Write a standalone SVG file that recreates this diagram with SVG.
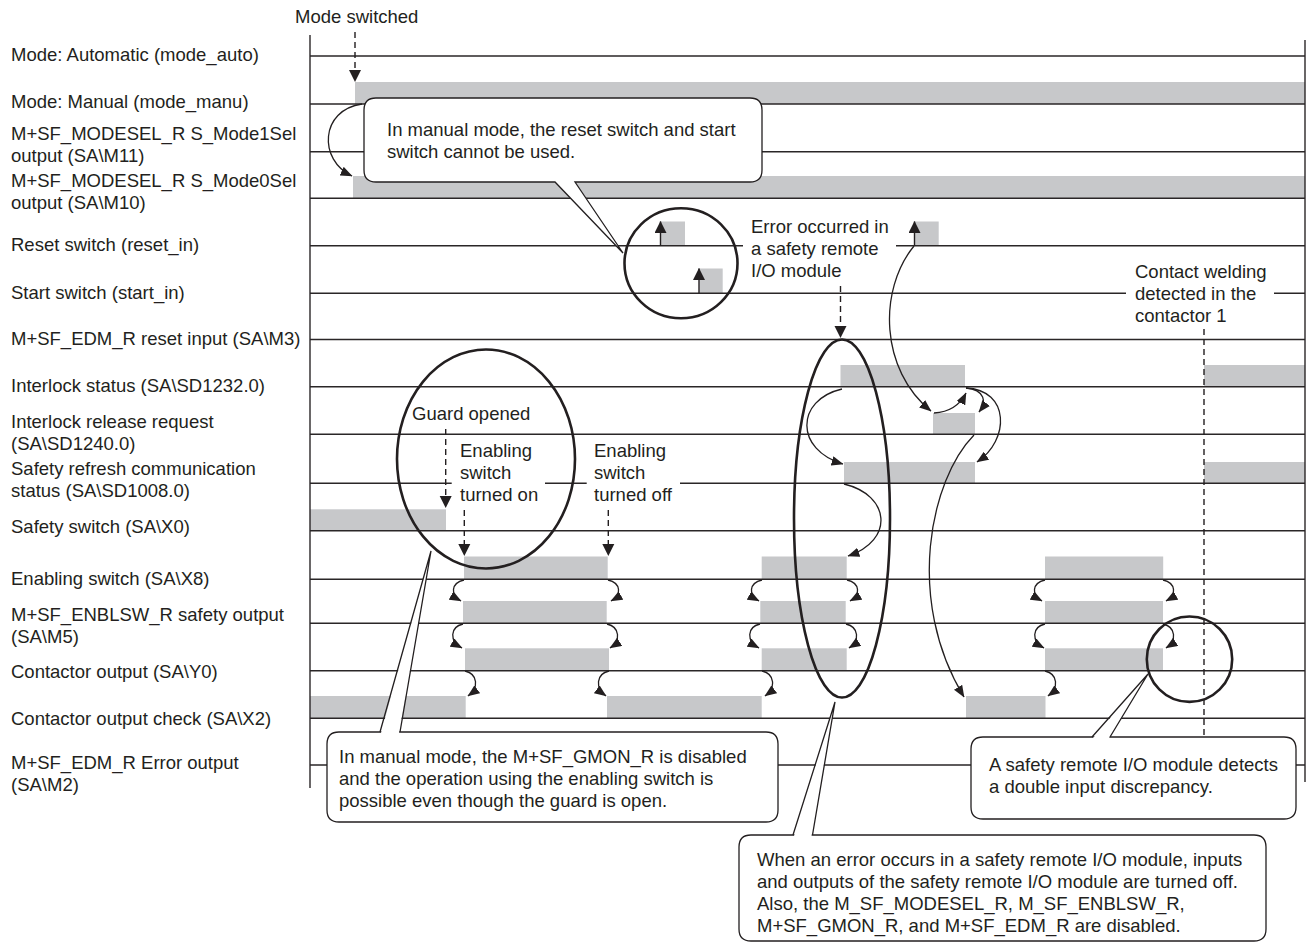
<svg xmlns="http://www.w3.org/2000/svg" width="1307" height="945" viewBox="0 0 1307 945">
<style>
text{font-family:"Liberation Sans",Arial,sans-serif;font-size:18.5px;fill:#231f20}
.ln{stroke:#2a2627;stroke-width:1.4;fill:none}
.sig{fill:#c7c8ca}
.ring{stroke:#231f20;stroke-width:2.6;fill:none}
.cv{stroke:#231f20;stroke-width:1.3;fill:none;marker-end:url(#ah)}
.dash{stroke:#231f20;stroke-width:1.4;fill:none;stroke-dasharray:6 4}
.up{stroke:#231f20;stroke-width:1.4;fill:none;marker-end:url(#ahb)}
.co{fill:#fff;stroke:#231f20;stroke-width:1.3}
.tl{stroke:#231f20;stroke-width:1.3;fill:none}
</style>
<defs>
<marker id="ah" viewBox="0 0 10 8" refX="9.5" refY="4" markerWidth="12" markerHeight="9.6" markerUnits="userSpaceOnUse" orient="auto"><path d="M0,0 L10,4 L0,8 z" fill="#231f20"/></marker>
<marker id="ahb" viewBox="0 0 12 12" refX="11.5" refY="6" markerWidth="12" markerHeight="12" markerUnits="userSpaceOnUse" orient="auto"><path d="M0,0 L12,6 L0,12 z" fill="#231f20"/></marker>
</defs>
<rect width="1307" height="945" fill="#fff"/>

<!-- signal rows -->
<g id="row-mode-auto"><text x="11" y="61">Mode: Automatic (mode_auto)</text><line class="ln" x1="310" y1="56" x2="1305" y2="56"/></g>
<g id="row-mode-manu"><text x="11" y="108">Mode: Manual (mode_manu)</text><rect class="sig" x="355" y="82" width="950" height="22"/><line class="ln" x1="310" y1="104" x2="1305" y2="104"/></g>
<g id="row-mode1sel"><text x="11" y="140">M+SF_MODESEL_R S_Mode1Sel</text><text x="11" y="162">output (SA\M11)</text><line class="ln" x1="310" y1="151.7" x2="1305" y2="151.7"/></g>
<g id="row-mode0sel"><text x="11" y="187">M+SF_MODESEL_R S_Mode0Sel</text><text x="11" y="209">output (SA\M10)</text><rect class="sig" x="353" y="176" width="952" height="22.3"/><line class="ln" x1="310" y1="198.3" x2="1305" y2="198.3"/></g>
<g id="row-reset"><text x="11" y="251">Reset switch (reset_in)</text><rect class="sig" x="660.7" y="221.5" width="24.3" height="24.2"/><rect class="sig" x="914.5" y="221.5" width="24.2" height="24.2"/><path class="ln" d="M310,245.7 H743 M896,245.7 H1305"/></g>
<g id="row-start"><text x="11" y="299">Start switch (start_in)</text><rect class="sig" x="699.3" y="268.5" width="23.4" height="24.8"/><path class="ln" d="M310,293.3 H1126 M1274,293.3 H1305"/></g>
<g id="row-edm-reset"><text x="11" y="345">M+SF_EDM_R reset input (SA\M3)</text><line class="ln" x1="310" y1="339.5" x2="1305" y2="339.5"/></g>
<g id="row-interlock"><text x="11" y="392">Interlock status (SA\SD1232.0)</text><rect class="sig" x="840.5" y="365" width="124.5" height="21.7"/><rect class="sig" x="1204" y="365" width="101" height="21.7"/><line class="ln" x1="310" y1="386.7" x2="1305" y2="386.7"/></g>
<g id="row-release"><text x="11" y="428">Interlock release request</text><text x="11" y="450">(SA\SD1240.0)</text><rect class="sig" x="933" y="413" width="42" height="21.3"/><line class="ln" x1="310" y1="434.3" x2="1305" y2="434.3"/></g>
<g id="row-refresh"><text x="11" y="475">Safety refresh communication</text><text x="11" y="497">status (SA\SD1008.0)</text><rect class="sig" x="844" y="462" width="131" height="21.3"/><rect class="sig" x="1204" y="462" width="101" height="21.3"/><path class="ln" d="M310,483.3 H451.7 M545,483.3 H586.7 M680,483.3 H1305"/></g>
<g id="row-safety-switch"><text x="11" y="533">Safety switch (SA\X0)</text><rect class="sig" x="310" y="509.3" width="136" height="21.4"/><line class="ln" x1="310" y1="530.7" x2="1305" y2="530.7"/></g>
<g id="row-enabling"><text x="11" y="585">Enabling switch (SA\X8)</text><rect class="sig" x="464" y="556.5" width="143.7" height="22.8"/><rect class="sig" x="761.7" y="556.5" width="85" height="22.8"/><rect class="sig" x="1045" y="556.5" width="118.2" height="22.8"/><line class="ln" x1="310" y1="579.3" x2="1305" y2="579.3"/></g>
<g id="row-enblsw"><text x="11" y="621">M+SF_ENBLSW_R safety output</text><text x="11" y="643">(SA\M5)</text><rect class="sig" x="463" y="601" width="143.7" height="22.3"/><rect class="sig" x="760.3" y="601" width="85.4" height="22.3"/><rect class="sig" x="1045" y="601" width="118" height="22.3"/><line class="ln" x1="310" y1="623.3" x2="1305" y2="623.3"/></g>
<g id="row-contactor"><text x="11" y="677.5">Contactor output (SA\Y0)</text><rect class="sig" x="465" y="648.3" width="144" height="22.4"/><rect class="sig" x="761.7" y="648.3" width="85" height="22.4"/><rect class="sig" x="1045" y="648.3" width="118" height="22.4"/><line class="ln" x1="310" y1="670.7" x2="1305" y2="670.7"/></g>
<g id="row-check"><text x="11" y="724.5">Contactor output check (SA\X2)</text><rect class="sig" x="310" y="696" width="155.7" height="22.3"/><rect class="sig" x="607" y="696" width="154.7" height="22.3"/><rect class="sig" x="966" y="696" width="79.5" height="22.3"/><line class="ln" x1="310" y1="718.3" x2="1305" y2="718.3"/></g>
<g id="row-edm-error"><text x="11" y="768.5">M+SF_EDM_R Error output</text><text x="11" y="790.5">(SA\M2)</text><path class="ln" d="M310,765 H330 M775,765 H975 M1292,765 H1305"/></g>

<g id="axes">
<line class="ln" x1="310" y1="35" x2="310" y2="788"/>
<line class="ln" x1="1305" y1="40" x2="1305" y2="782"/>
</g>

<!-- highlight rings -->
<g id="ring-reset"><ellipse class="ring" cx="681" cy="263.3" rx="56.5" ry="55"/></g>
<g id="ring-guard"><ellipse class="ring" cx="486" cy="459" rx="89" ry="109.5"/></g>
<g id="ring-error"><ellipse class="ring" cx="842" cy="518.5" rx="48" ry="179"/></g>
<g id="ring-welding"><circle class="ring" cx="1189.5" cy="659.2" r="42.7"/></g>

<!-- connectors -->
<g id="connectors">
<line class="dash" x1="355" y1="32" x2="355" y2="70"/><path d="M349,70 L361,70 L355,82 z" fill="#231f20"/>
<line class="dash" x1="445.7" y1="429" x2="445.7" y2="496"/><path d="M439.7,496 L451.7,496 L445.7,508 z" fill="#231f20"/>
<line class="dash" x1="464.3" y1="510" x2="464.3" y2="544"/><path d="M458.3,544 L470.3,544 L464.3,556 z" fill="#231f20"/>
<line class="dash" x1="608.3" y1="510" x2="608.3" y2="544"/><path d="M602.3,544 L614.3,544 L608.3,556 z" fill="#231f20"/>
<line class="dash" x1="840.5" y1="286" x2="840.5" y2="326"/><path d="M834.5,326 L846.5,326 L840.5,338 z" fill="#231f20"/>
<line class="dash" x1="1204" y1="329" x2="1204" y2="737"/>
<line class="up" x1="660.5" y1="245.7" x2="660.5" y2="221.5"/>
<line class="up" x1="699" y1="293.3" x2="699" y2="268.5"/>
<line class="up" x1="914.5" y1="245.7" x2="914.5" y2="221.5"/>
<path class="cv" d="M362,104 C320,110 318,160 352,176"/>
<path class="cv" d="M914,246 C878,290 880,370 931,411"/>
<path class="cv" d="M842,389 C795,400 795,450 843,464"/>
<path class="cv" d="M934,413 C950,412 960,405 966,393"/>
<path class="cv" d="M966,388 C985,390 987,402 979,412"/>
<path class="cv" d="M966,388 C1010,390 1010,440 977,462"/>
<path class="cv" d="M844,484 C890,495 895,540 848,556"/>
<path class="cv" d="M974,435 C930,480 905,600 964,697"/>
<path class="cv" d="M464,580 C451,583 450,595 461,601"/>
<path class="cv" d="M608,580 C621,583 622,595 611,601"/>
<path class="cv" d="M762,580 C749,583 748,595 759,601"/>
<path class="cv" d="M847,580 C860,583 861,595 850,601"/>
<path class="cv" d="M1045,580 C1032,583 1031,595 1042,601"/>
<path class="cv" d="M1163,580 C1176,583 1177,595 1166,601"/>
<path class="cv" d="M463,624 C450,627 449,641 462,648"/>
<path class="cv" d="M607,624 C620,627 621,641 610,648"/>
<path class="cv" d="M760,624 C747,627 746,641 759,648"/>
<path class="cv" d="M846,624 C859,627 860,641 849,648"/>
<path class="cv" d="M1045,624 C1032,627 1031,641 1044,648"/>
<path class="cv" d="M1163,624 C1176,627 1177,641 1166,648"/>
<path class="cv" d="M465,671 C478,674 479,688 468,696"/>
<path class="cv" d="M609,671 C596,674 595,688 606,696"/>
<path class="cv" d="M762,671 C775,674 776,688 765,696"/>
<path class="cv" d="M1045,671 C1058,674 1059,688 1048,696"/>
</g>

<!-- annotations -->
<g id="note-mode-switched"><text x="295" y="23">Mode switched</text></g>
<g id="note-error"><text x="751" y="233">Error occurred in</text><text x="751" y="255">a safety remote</text><text x="751" y="277">I/O module</text></g>
<g id="note-welding"><text x="1135" y="278">Contact welding</text><text x="1135" y="300">detected in the</text><text x="1135" y="322">contactor 1</text></g>
<g id="note-guard"><text x="412" y="420">Guard opened</text></g>
<g id="note-en-on"><text x="460" y="457">Enabling</text><text x="460" y="479">switch</text><text x="460" y="501">turned on</text></g>
<g id="note-en-off"><text x="594" y="457">Enabling</text><text x="594" y="479">switch</text><text x="594" y="501">turned off</text></g>

<!-- callouts -->
<g id="callout-manual">
<path class="co" d="M376,98 H750 Q762,98 762,110 V170 Q762,182 750,182 H575 L623,253 L555,182 H376 Q364,182 364,170 V110 Q364,98 376,98 Z"/>
<text x="387" y="136">In manual mode, the reset switch and start</text>
<text x="387" y="158">switch cannot be used.</text>
</g>
<g id="callout-gmon">
<path class="co" d="M339,732 H766 Q778,732 778,744 V810 Q778,822 766,822 H339 Q327,822 327,810 V744 Q327,732 339,732 Z"/>
<path d="M381,733 L431,551 L399,733 Z" fill="#fff"/>
<path class="tl" d="M380,732 L431,551 L400,732"/>
<text x="339" y="763">In manual mode, the M+SF_GMON_R is disabled</text>
<text x="339" y="785">and the operation using the enabling switch is</text>
<text x="339" y="807">possible even though the guard is open.</text>
</g>
<g id="callout-discrepancy">
<path class="co" d="M983,737 H1284 Q1296,737 1296,749 V807 Q1296,819 1284,819 H983 Q971,819 971,807 V749 Q971,737 983,737 Z"/>
<path d="M1093,738 L1148,674 L1109,738 Z" fill="#fff"/>
<path class="tl" d="M1092,737 L1148,674 L1110,737"/>
<text x="989" y="771">A safety remote I/O module detects</text>
<text x="989" y="793">a double input discrepancy.</text>
</g>
<g id="callout-error">
<path class="co" d="M751,835 H1254 Q1266,835 1266,847 V929 Q1266,941 1254,941 H751 Q739,941 739,929 V847 Q739,835 751,835 Z"/>
<path d="M794,836 L835,702 L811.5,836 Z" fill="#fff"/>
<path class="tl" d="M793,835 L835,702 L812.5,835"/>
<text x="757" y="866">When an error occurs in a safety remote I/O module, inputs</text>
<text x="757" y="888">and outputs of the safety remote I/O module are turned off.</text>
<text x="757" y="910">Also, the M_SF_MODESEL_R, M_SF_ENBLSW_R,</text>
<text x="757" y="932">M+SF_GMON_R, and M+SF_EDM_R are disabled.</text>
</g>
</svg>
